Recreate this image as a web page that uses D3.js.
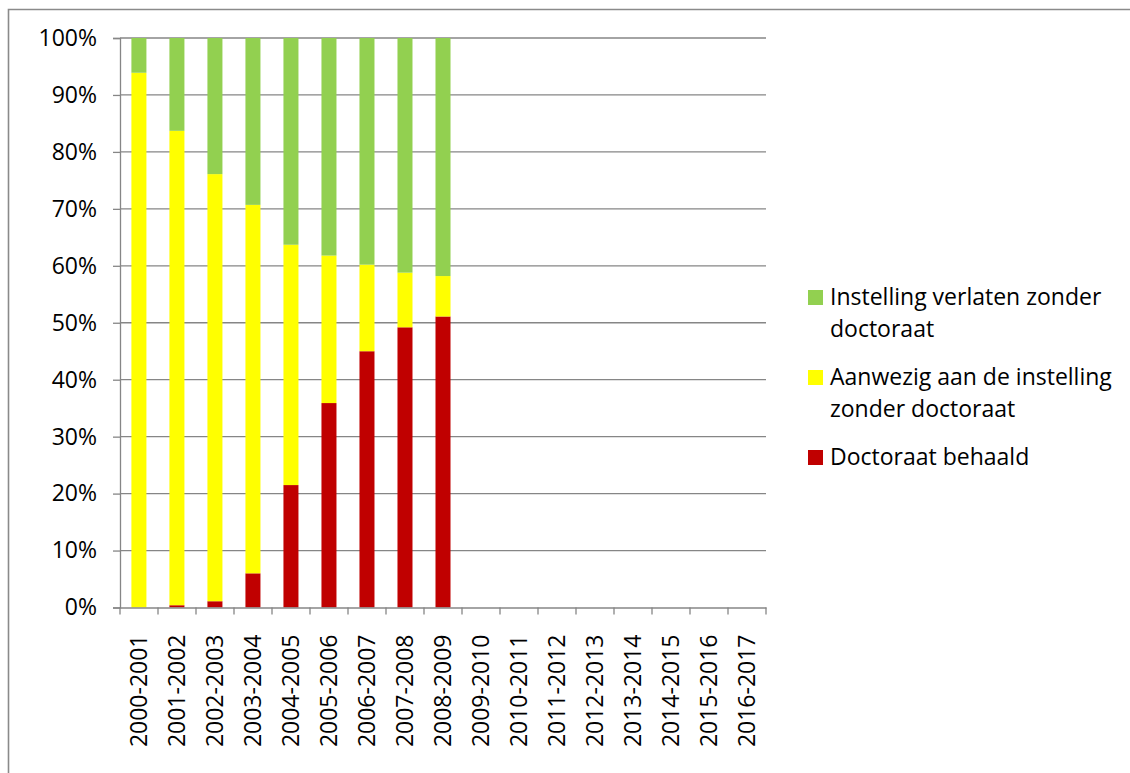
<!DOCTYPE html>
<html>
<head>
<meta charset="utf-8">
<script src="https://cdn.jsdelivr.net/npm/d3@7"></script>
<style>
  html, body { margin: 0; padding: 0; background: #fff; }
  svg { display: block; font-family: "Open Sans", sans-serif; }
</style>
</head>
<body>
<svg id="chart" width="1130" height="773"></svg>
<script>
// ---- data ----
const categories = ["2000-2001","2001-2002","2002-2003","2003-2004","2004-2005","2005-2006","2006-2007","2007-2008","2008-2009","2009-2010","2010-2011","2011-2012","2012-2013","2013-2014","2014-2015","2015-2016","2016-2017"];
const doctoraatBehaald = [0, 0.4, 1.1, 6.0, 21.5, 35.9, 45.0, 49.2, 51.1, null, null, null, null, null, null, null, null];
const aanwezigZonder   = [93.9, 83.3, 75.0, 64.7, 42.2, 25.9, 15.2, 9.6, 7.1, null, null, null, null, null, null, null, null];
const verlatenZonder   = [6.1, 16.3, 23.9, 29.3, 36.3, 38.2, 39.8, 41.2, 41.8, null, null, null, null, null, null, null, null];
const yTicks = [0, 10, 20, 30, 40, 50, 60, 70, 80, 90, 100];
const seriesNames = ["Doctoraat behaald", "Aanwezig aan de instelling zonder doctoraat", "Instelling verlaten zonder doctoraat"];
const legendLines = [["Instelling verlaten zonder", "doctoraat"], ["Aanwezig aan de instelling", "zonder doctoraat"], ["Doctoraat behaald"]];
const colors = { "Doctoraat behaald": "#C00000", "Aanwezig aan de instelling zonder doctoraat": "#FFFF00", "Instelling verlaten zonder doctoraat": "#92D050" };

// ---- layout ----
const svg = d3.select("#chart");
const plot = { left: 120, right: 766, top: 38, bottom: 607.5 };
const gridColor = "#868686";
const fontSize = 23;

// outer frame (left + top only visible)
svg.append("path")
  .attr("d", "M8.5,773 L8.5,9.5 L1130,9.5")
  .attr("fill", "none").attr("stroke", "#8a8a8a").attr("stroke-width", 1.6);

const x = d3.scaleBand().domain(categories).range([plot.left, plot.right]).paddingInner(0.605).paddingOuter(0.3);
const y = d3.scaleLinear().domain([0, 100]).range([plot.bottom, plot.top]);

// gridlines
svg.append("g").selectAll("line").data(yTicks.filter(t => t > 0)).join("line")
  .attr("x1", plot.left).attr("x2", plot.right)
  .attr("y1", d => y(d)).attr("y2", d => y(d))
  .attr("stroke", gridColor).attr("stroke-width", 1.3);

// stacked data
const rows = categories.map((c, i) => ({
  cat: c,
  "Doctoraat behaald": doctoraatBehaald[i],
  "Aanwezig aan de instelling zonder doctoraat": aanwezigZonder[i],
  "Instelling verlaten zonder doctoraat": verlatenZonder[i]
})).filter(r => r["Doctoraat behaald"] !== null);

const stack = d3.stack().keys(seriesNames);
const stacked = stack(rows);

svg.append("g").selectAll("g").data(stacked).join("g")
  .attr("fill", d => colors[d.key])
  .selectAll("rect").data(d => d).join("rect")
  .attr("x", d => x(d.data.cat))
  .attr("width", x.bandwidth())
  .attr("y", d => y(d[1]))
  .attr("height", d => Math.max(0, y(d[0]) - y(d[1])));

// y axis
const yAxis = svg.append("g").attr("transform", `translate(${plot.left},0)`)
  .call(d3.axisLeft(y).tickValues(yTicks).tickFormat(d => d + "%").tickSize(7).tickPadding(16));
yAxis.select(".domain").attr("stroke", gridColor).attr("stroke-width", 1.3);
yAxis.selectAll(".tick line").attr("stroke", gridColor).attr("stroke-width", 1.3);
yAxis.selectAll(".tick text").attr("font-size", fontSize).attr("font-family", "'Open Sans', sans-serif").attr("fill", "#000");

// x axis
const xAxis = svg.append("g").attr("transform", `translate(0,${plot.bottom})`)
  .call(d3.axisBottom(x).tickSize(0).tickSizeOuter(0));
xAxis.select(".domain").attr("stroke", gridColor).attr("stroke-width", 1.3);
xAxis.selectAll(".tick text")
  .attr("font-size", fontSize).attr("font-family", "'Open Sans', sans-serif").attr("fill", "#000")
  .attr("text-anchor", "end")
  .attr("transform", "rotate(-90)")
  .attr("x", -27).attr("y", 0).attr("dy", "0.36em");
// boundary ticks between categories
const step = x.step();
const boundaries = d3.range(categories.length + 1).map(i => plot.left + i * (plot.right - plot.left) / categories.length);
xAxis.append("g").selectAll("line").data(boundaries).join("line")
  .attr("x1", d => d).attr("x2", d => d).attr("y1", 0).attr("y2", 7)
  .attr("stroke", gridColor).attr("stroke-width", 1.3);

// legend
const legendKeys = ["Instelling verlaten zonder doctoraat", "Aanwezig aan de instelling zonder doctoraat", "Doctoraat behaald"];
const legend = svg.append("g");
const legendBaselines = [305, 385, 465];
legendKeys.forEach((k, i) => {
  const g = legend.append("g").attr("transform", `translate(808,${legendBaselines[i]})`);
  g.append("rect").attr("x", 0).attr("y", -15).attr("width", 15).attr("height", 15).attr("fill", colors[k]);
  legendLines[i].forEach((ln, j) => {
    g.append("text").attr("x", 22).attr("y", j * 32)
      .attr("font-size", fontSize).attr("fill", "#000").text(ln);
  });
});
</script>
</body>
</html>
